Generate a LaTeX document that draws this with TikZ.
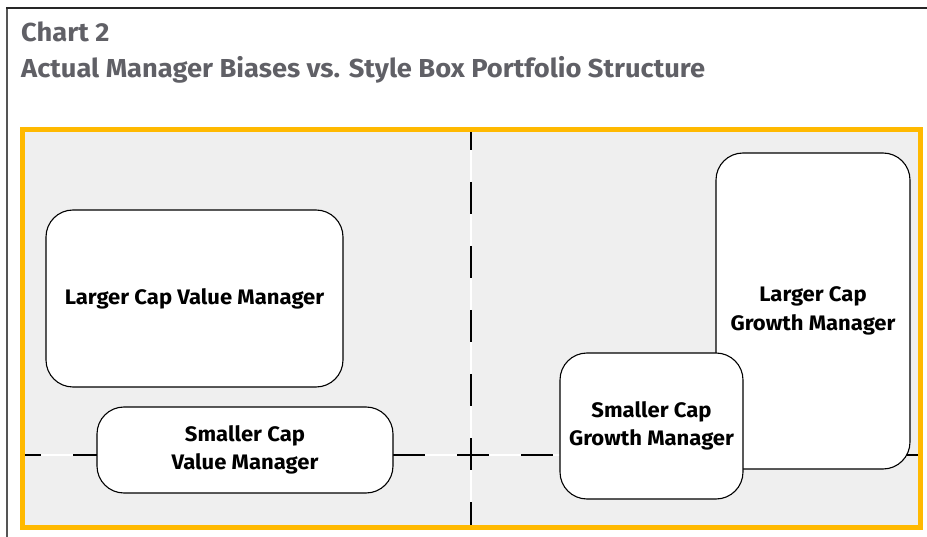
\documentclass[tikz,border=0pt]{standalone}
\usepackage{fontspec}
\setmainfont{Fira Sans}[FakeStretch=1.05]
\usetikzlibrary{positioning}

\definecolor{frameorange}{RGB}{255,185,0}
\definecolor{panelgray}{RGB}{239,239,239}
\definecolor{titlegray}{RGB}{96,96,102}
\definecolor{edgegray}{RGB}{85,85,85}

\tikzset{
  mgrbox/.style={draw=black, line width=1.1pt, fill=white, rounded corners=27pt,
    align=center, inner sep=0pt, font=\fontsize{21}{28.5}\selectfont\bfseries},
  titletext/.style={anchor=base west, inner sep=0pt, text=titlegray,
    font=\fontsize{26}{30}\selectfont\bfseries},
  axisunder/.style={white, line width=2.6pt},
  axisdash/.style={black, line width=2.6pt, dash pattern=on 32pt off 32pt},
}

\begin{document}
\begin{tikzpicture}[x=1pt, y=-1pt]
  \useasboundingbox (0,0) rectangle (927,537);
  % page edge
  \draw[edgegray, line width=1.5pt] (7,537) -- (7,8);
  \draw[black!85, line width=1.5pt] (6.25,8) -- (927,8);
  % titles
  \node[titletext] (chartno) at (21,42) {Chart 2};
  \node[titletext] (charttitle) at (21,78) {Actual Manager Biases vs. Style Box Portfolio Structure};
  % panel
  \fill[panelgray] (22,130) rectangle (920,527);
  \coordinate (vtop) at (471,130);
  \coordinate (vbot) at (471,527);
  \coordinate (hleft) at (22,455);
  \coordinate (hright) at (920,455);
  \draw[axisunder] (vtop) -- (vbot);
  \draw[axisunder] (hleft) -- (hright);
  \draw[axisdash, dash phase=12pt] (vtop) -- (vbot);
  \draw[axisdash, dash phase=13pt] (hleft) -- (hright);
  % managers
  \node[mgrbox, minimum width=297pt, minimum height=177pt] (lcvalue) at (194.5,298.5) {Larger Cap Value Manager};
  \node[mgrbox, minimum width=296pt, minimum height=86pt] (scvalue) at (245,450) {Smaller Cap\\Value Manager};
  \node[mgrbox, minimum width=194pt, minimum height=316pt] (lcgrowth) at (813,311) {Larger Cap\\Growth Manager};
  \node[mgrbox, minimum width=183pt, minimum height=146pt] (scgrowth) at (651.5,426) {Smaller Cap\\Growth Manager};
  % frame
  \draw[frameorange, line width=5pt] (22,130) rectangle (920,527);
\end{tikzpicture}
\end{document}
